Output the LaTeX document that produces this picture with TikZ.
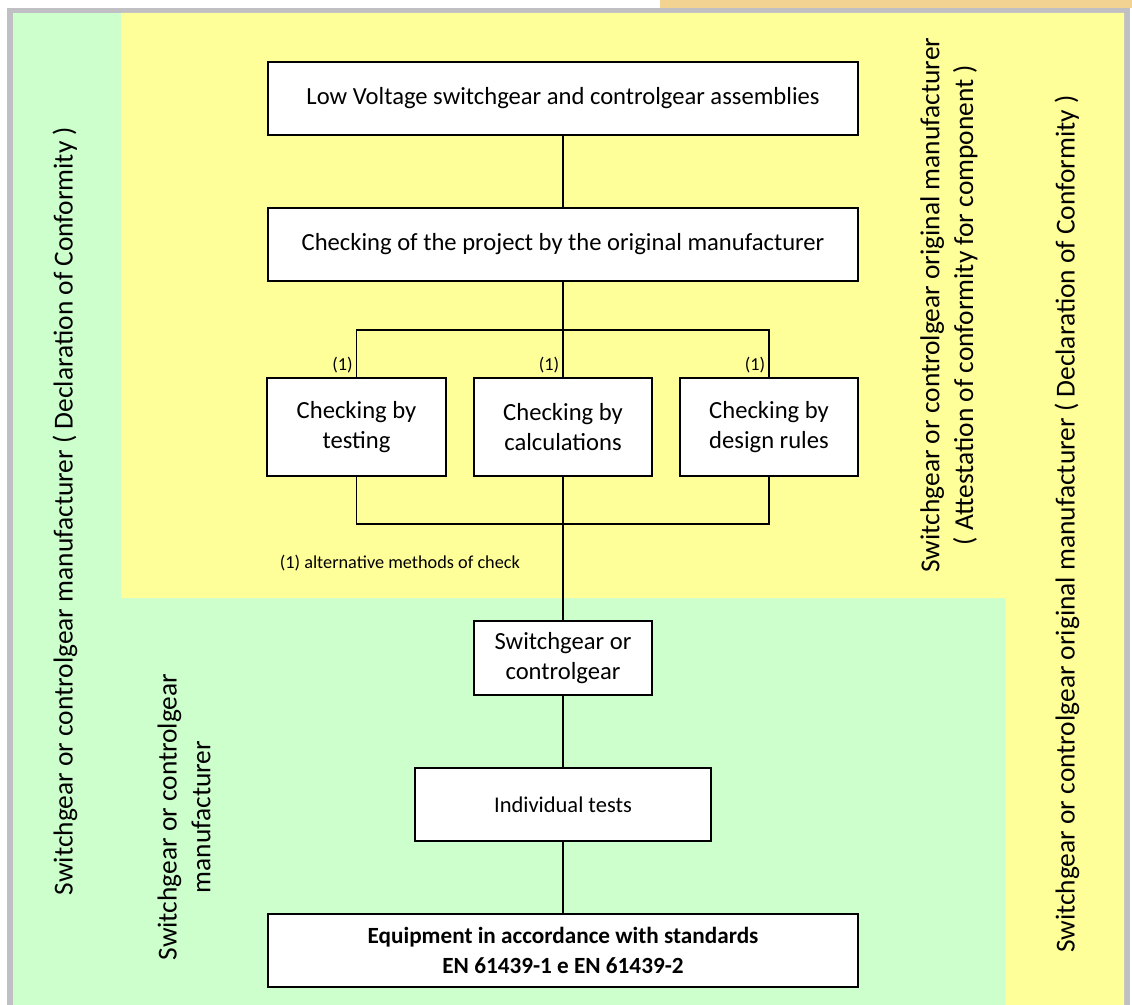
\documentclass[tikz,border=0pt]{standalone}
\usepackage{fontspec}
\setmainfont{Carlito}
\definecolor{bggreen}{HTML}{CCFFCC}
\definecolor{bgyellow}{HTML}{FFFF99}
\definecolor{bgorange}{HTML}{F2D391}
\definecolor{rim}{HTML}{C0C0C4}
\begin{document}
\begin{tikzpicture}[x=0.025cm,y=-0.025cm,line width=1.4pt]
  \tikzstyle{every node}=[font=\fontsize{17.5}{21}\selectfont]
  \tikzstyle{box}=[draw,fill=white,align=center,inner sep=0pt,minimum height=1.825cm]
  \tikzstyle{wide}=[box,minimum width=14.75cm]
  \tikzstyle{narrow}=[box,minimum width=4.45cm,minimum height=2.45cm]
  \tikzstyle{side}=[rotate=90,align=center,font=\fontsize{19.5}{24}\selectfont]
  \tikzstyle{note}=[font=\fontsize{13}{15}\selectfont,inner sep=2pt]
  \useasboundingbox (0,0) rectangle (1132,1005);
  % background areas
  \fill[bgorange] (660,0) rectangle (1132,8);
  \fill[rim] (7,8) rectangle (1130,1005);
  \fill[bggreen] (13,13) rectangle (1124,1005);
  \fill[bgyellow] (121,13) rectangle (1005,598) (1005,13) rectangle (1124,1005);
  % boxes
  \node[wide] (lv) at (563,98.5) {Low Voltage switchgear and controlgear assemblies};
  \node[wide] (proj) at (563,244.5) {Checking of the project by the original manufacturer};
  \node[narrow] (test) at (356.5,427) {Checking by\\testing};
  \node[narrow] (calc) at (563,427) {Checking by\\calculations};
  \node[narrow] (rules) at (769,427) {Checking by\\design rules};
  \node[box,minimum width=4.45cm,minimum height=1.85cm] (sw) at (563,658) {Switchgear or\\controlgear};
  \node[box,minimum width=7.4cm,font=\fontsize{16}{19}\selectfont] (ind) at (563,804.5) {Individual tests};
  \node[wide,font=\fontsize{16.5}{21}\selectfont\bfseries] (eq) at (563,950.5) {Equipment in accordance with standards\\EN 61439-1 e EN 61439-2};
  % connectors
  \coordinate (split) at (563,330);
  \coordinate (join) at (563,524);
  \draw (lv) -- (proj);
  \draw (proj) -- (calc);
  \draw (test.north) -- (test.north |- split) -| (rules.north);
  \draw (test.south) -- (test.south |- join) -| (rules.south);
  \draw (calc) -- (sw);
  \draw (sw) -- (ind);
  \draw (ind) -- (eq);
  % notes
  \node[note,anchor=south east] (m1) at (test.north) {(1)};
  \node[note,anchor=south east] (m2) at (calc.north) {(1)};
  \node[note,anchor=south east] (m3) at (rules.north) {(1)};
  \node[note,anchor=base west] (fn) at (276,568) {(1) alternative methods of check};
  % side texts
  \node[side] (mfr) at (65,511) {Switchgear or controlgear manufacturer ( Declaration of Conformity )};
  \node[side] (mfrsub) at (184,817) {Switchgear or controlgear\\manufacturer};
  \node[side] (orig) at (949,305) {Switchgear or controlgear original manufacturer\\( Attestation of conformity for component )};
  \node[side] (origdoc) at (1067,524) {Switchgear or controlgear original manufacturer ( Declaration of Conformity )};
\end{tikzpicture}
\end{document}
